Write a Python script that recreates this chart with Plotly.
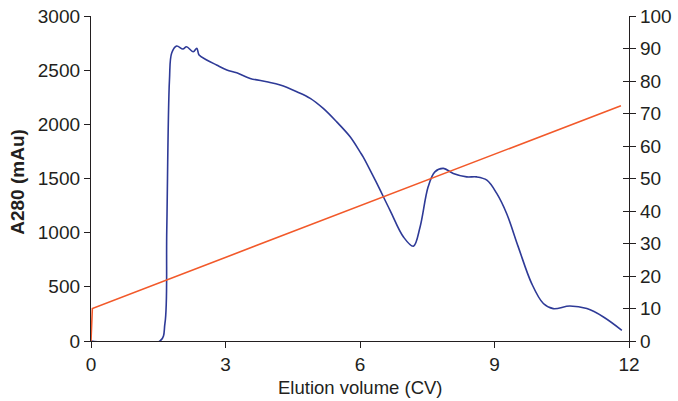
import plotly.graph_objects as go

# A280 trace (mAu) vs elution volume (CV)
a280_x = [0, 1.54, 1.65, 1.69, 1.75, 1.80, 1.91, 2.05, 2.13, 2.28, 2.36, 2.41, 2.58, 2.80,
          3.03, 3.25, 3.55, 3.92, 4.22, 4.59, 4.89, 5.18, 5.48, 5.78, 6.00, 6.07, 6.34,
          6.67, 6.97, 7.19, 7.34, 7.52, 7.67, 7.86, 8.08, 8.38, 8.60, 8.83, 9.05, 9.27,
          9.53, 9.83, 10.09, 10.31, 10.68, 11.06, 11.43, 11.84]
a280_y = [0, 0, 164, 1023, 2409, 2658, 2723, 2695, 2716, 2670, 2702, 2640, 2594, 2548,
          2502, 2476, 2424, 2393, 2363, 2301, 2240, 2147, 2023, 1885, 1746, 1700, 1484,
          1206, 960, 875, 1053, 1423, 1561, 1593, 1547, 1515, 1515, 1485, 1362, 1177,
          869, 530, 346, 299, 323, 299, 222, 99]

# Gradient (%B) vs elution volume (CV)
grad_x = [0, 0.03, 11.82]
grad_y = [0, 10.0, 72.4]

x_ticks = [0, 3, 6, 9, 12]

blue = "#2E3A97"
red = "#F2592A"
axc = "#231F20"
font = "Liberation Sans, Arial, sans-serif"

common = dict(ticklen=6, tickwidth=1.3, tickcolor=axc, showgrid=False, zeroline=False,
              automargin=False, ticklabeloverflow="allow",
              tickfont=dict(size=19, color=axc))

fig = go.Figure()
fig.add_trace(go.Scatter(x=a280_x, y=a280_y, mode="lines", line=dict(color=blue, width=1.6),
                         yaxis="y", showlegend=False, line_shape="spline"))
fig.add_trace(go.Scatter(x=grad_x, y=grad_y, mode="lines", line=dict(color=red, width=1.6),
                         yaxis="y2", showlegend=False))
fig.add_trace(go.Scatter(x=[None], y=[None], yaxis="y3", showlegend=False, hoverinfo="skip"))

fig.update_layout(
    width=678, height=401,
    margin=dict(l=91, r=49, t=16, b=60, autoexpand=False),
    paper_bgcolor="white", plot_bgcolor="white",
    font=dict(family=font, size=19, color=axc),
    xaxis=dict(range=[0, 12], tickvals=x_ticks, ticks="outside", showline=True,
               linecolor=axc, linewidth=1.3, **common),
    yaxis=dict(range=[0, 3000], dtick=500, ticks="outside", showline=True,
               linecolor=axc, linewidth=1.3, **common),
    yaxis2=dict(range=[0, 100], dtick=10, overlaying="y", side="right", ticks="outside",
                showline=True, linecolor=axc, linewidth=1.3, **common),
    yaxis3=dict(range=[0, 100], dtick=10, overlaying="y", side="right", ticks="inside",
                showline=False, showticklabels=False, **common),
    annotations=[
        dict(text="<b>A280 (mAu)</b>", xref="paper", yref="paper", x=-0.1357, y=0.49,
             xanchor="center", yanchor="middle", textangle=-90, showarrow=False,
             font=dict(size=19, color=axc)),
        dict(text="Elution volume (CV)", xref="paper", yref="paper", x=0.5, y=-0.142,
             xanchor="center", yanchor="middle", showarrow=False,
             font=dict(size=18.5, color=axc)),
    ],
)

# remove the browser's default 8px body margin so the figure fills the window exactly
fig.write_html("out.html", config={"displayModeBar": False},
               post_script="document.body.style.margin='0';document.body.style.overflow='hidden';")
